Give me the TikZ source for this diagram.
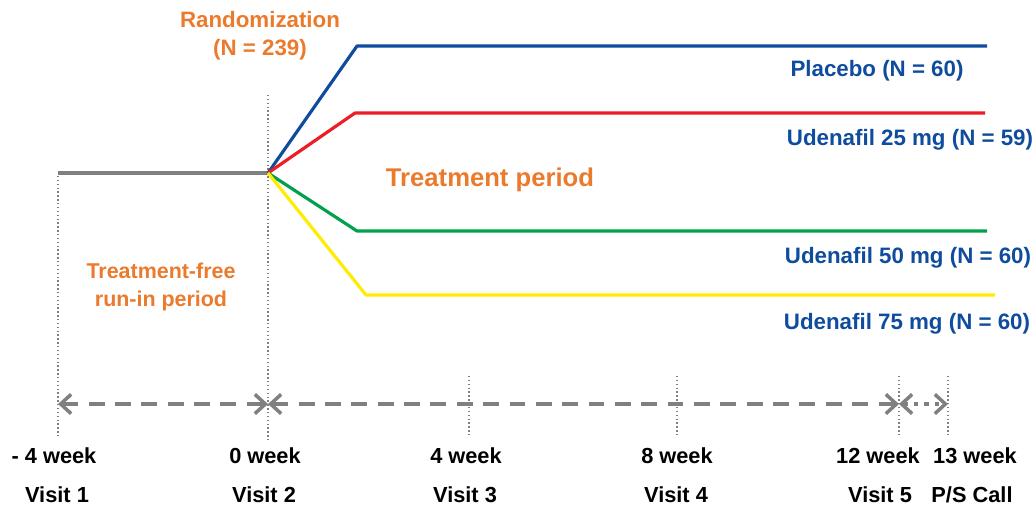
\documentclass[tikz,border=0pt]{standalone}
\usepackage{fontspec}
\setmainfont{Liberation Sans}
\usepackage{tikz}
\usetikzlibrary{positioning, arrows.meta}

\definecolor{rndorange}{HTML}{EB7A2C}
\definecolor{armblue}{HTML}{0F4C9E}
\definecolor{armred}{HTML}{EE1D25}
\definecolor{armgreen}{HTML}{00A14B}
\definecolor{armyellow}{HTML}{FFEC00}
\definecolor{linegray}{HTML}{808080}

\tikzset{
    arm/.style={line width=1.8pt, line join=round},
    tick/.style={linegray, line width=1.1pt, dash pattern=on 0.8pt off 1.4pt},
    span/.style={linegray, line width=2.8pt, dash pattern=on 9pt off 6pt,
        {Straight Barb[length=6pt, width=11pt, line width=2pt]}-{Straight Barb[length=6pt, width=11pt, line width=2pt]}},
    lbl/.style={font=\bfseries\fontsize{12.4}{14}\selectfont, inner sep=0pt},
    armlbl/.style={lbl, text=armblue, font=\bfseries\fontsize{12.7}{14}\selectfont},
    orglbl/.style={inner sep=0pt, text=rndorange, align=center}
}

\begin{document}
\begin{tikzpicture}[x=0.02cm, y=-0.02cm]
    \useasboundingbox (0,0) rectangle (1035,505);

    % Time points
    \coordinate (start) at (58,173);
    \coordinate (rand) at (268,173);
    \coordinate (t1) at (58,404);
    \coordinate (t2) at (268,404);
    \coordinate (t5) at (899,404);
    \coordinate (t6) at (948,404);

    % Dotted week markers
    \draw[tick] (58,176) -- (58,436);
    \draw[tick] (268,95) -- (268,440);
    \foreach \x in {469,677,899,948}
        \draw[tick] (\x,376) -- (\x,436);

    % Run-in and the four arms
    \draw[arm, linegray] (start) -- (rand);
    \draw[arm, armblue] (rand) -- (357,46) -- (987,46);
    \draw[arm, armred] (rand) -- (355,113) -- (985,113);
    \draw[arm, armgreen] (rand) -- (357,231) -- (987,231);
    \draw[arm, armyellow] (rand) -- (366,295) -- (995,295);

    % Period arrows
    \draw[span] (t1) -- (t2);
    \draw[span] (t2) -- (t5);
    \draw[span, dash pattern=on 2.5pt off 3.5pt] (t5) -- (t6);

    % Orange labels
    \node[orglbl, font=\bfseries\fontsize{12.7}{16}\selectfont] (randlbl) at (260,36) {Randomization\\(N = 239)};
    \node[orglbl, font=\bfseries\fontsize{14.6}{16}\selectfont] (treat) at (490,180) {Treatment period};
    \node[orglbl, font=\bfseries\fontsize{12.2}{15.5}\selectfont] (runin) at (161,287) {Treatment-free\\run-in period};

    % Arm labels
    \node[armlbl] (placebo) at (877,71) {Placebo (N = 60)};
    \node[armlbl] (ud25) at (910,140) {Udenafil 25 mg (N = 59)};
    \node[armlbl] (ud50) at (908,258) {Udenafil 50 mg (N = 60)};
    \node[armlbl] (ud75) at (907,324) {Udenafil 75 mg (N = 60)};

    % Weeks and visits
    \node[lbl] (wkA) at (54,456) {- 4 week};
    \node[lbl] (wkB) at (265,456) {0 week};
    \node[lbl] (wkC) at (466,456) {4 week};
    \node[lbl] (wkD) at (677,456) {8 week};
    \node[lbl] (wkE) at (878,456) {12 week};
    \node[lbl] (wkF) at (975,456) {13 week};
    \node[lbl] (vA) at (57,495) {Visit 1};
    \node[lbl] (vB) at (264,495) {Visit 2};
    \node[lbl] (vC) at (465,495) {Visit 3};
    \node[lbl] (vD) at (676,495) {Visit 4};
    \node[lbl] (vE) at (880,495) {Visit 5};
    \node[lbl] (vF) at (972,495) {P/S Call};
\end{tikzpicture}
\end{document}
